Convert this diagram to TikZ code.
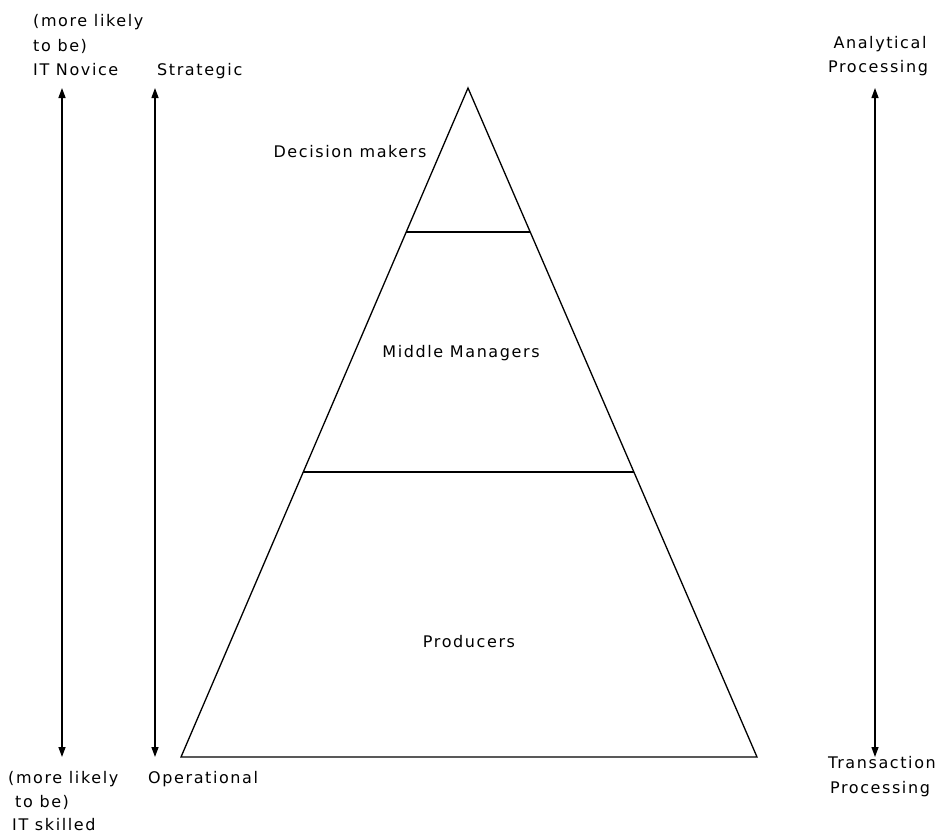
\documentclass[tikz,border=0pt]{standalone}
\usepackage{fontspec}
\setmainfont[LetterSpace=10]{DejaVu Sans}
\usetikzlibrary{arrows.meta,calc}
\begin{document}
\begin{tikzpicture}[x=1pt,y=-1pt,
  lbl/.style={inner sep=0pt,font=\fontsize{16}{20}\selectfont},
  edge/.style={line width=1.3pt},
  dbl/.style={line width=1.3pt,{Triangle[length=10pt,width=7pt]}-{Triangle[length=10pt,width=7pt]}}]
\useasboundingbox (0,0) rectangle (939,835);
% triangle
\coordinate (apex) at (468,88);
\coordinate (bl) at (181,757);
\coordinate (br) at (757,757);
\draw[edge,line join=miter] (apex) -- (bl) -- (br) -- cycle;
\coordinate (l1) at ($(apex)!0.2152!(bl)$);
\coordinate (r1) at ($(apex)!0.2152!(br)$);
\coordinate (l2) at ($(apex)!0.5740!(bl)$);
\coordinate (r2) at ($(apex)!0.5740!(br)$);
\draw[edge] (l1) -- (r1);
\draw[edge] (l2) -- (r2);
% arrows
\coordinate (a1t) at (62,88);  \coordinate (a1b) at (62,757);
\coordinate (a2t) at (155,88); \coordinate (a2b) at (155,757);
\coordinate (a3t) at (875,88); \coordinate (a3b) at (875,757);
\draw[dbl] (a1t) -- (a1b);
\draw[dbl] (a2t) -- (a2b);
\draw[dbl] (a3t) -- (a3b);
% layer labels
\node[lbl,anchor=base] (dm) at (350,157) {Decision makers};
\node[lbl,anchor=base] (mm) at (461,357) {Middle Managers};
\node[lbl,anchor=base] (pr) at (469,647) {Producers};
% top-left
\node[lbl,anchor=base west] (tl1) at (33,27) {(more likely};
\node[lbl,anchor=base west] (tl2) at (33,51) {to be)};
\node[lbl,anchor=base west] (tl3) at (33,75) {IT Novice};
\node[lbl,anchor=base west] (st) at (157,75) {Strategic};
% bottom-left
\node[lbl,anchor=base west] (bl1) at (8,783) {(more likely};
\node[lbl,anchor=base west] (bl2) at (15,807) {to be)};
\node[lbl,anchor=base west] (bl3) at (12,830) {IT skilled};
\node[lbl,anchor=base west] (op) at (148,783) {Operational};
% right
\node[lbl,anchor=base] (an) at (880,48) {Analytical};
\node[lbl,anchor=base] (ap) at (878,72) {Processing};
\node[lbl,anchor=base] (tr) at (882,768) {Transaction};
\node[lbl,anchor=base] (tp) at (880,793) {Processing};
\end{tikzpicture}
\end{document}
